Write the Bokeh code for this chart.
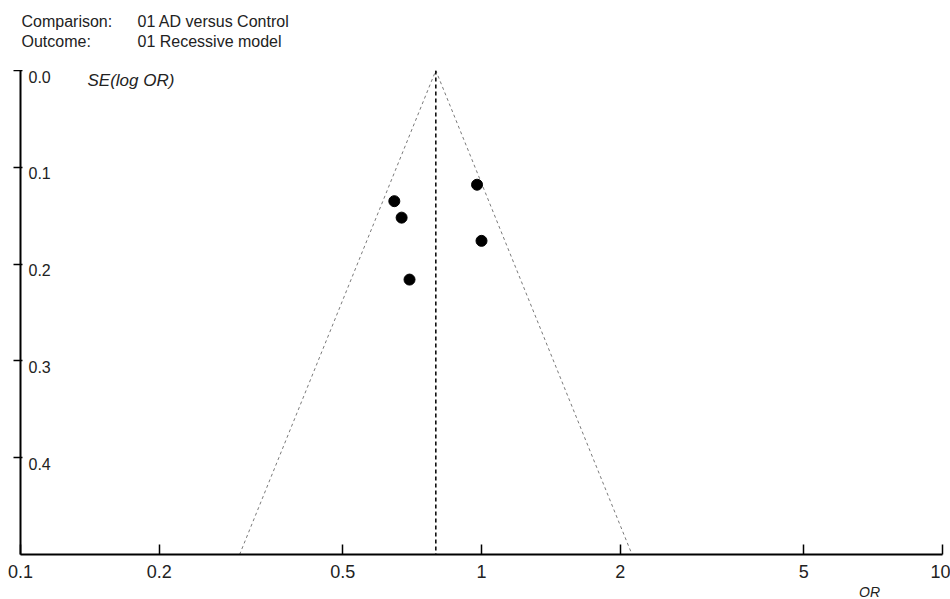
import numpy as np
from bokeh.plotting import figure
from bokeh.layouts import column
from bokeh.models import Range1d, FixedTicker, ColumnDataSource, CustomJSTickFormatter
from bokeh.core.properties import value
from bokeh.embed import file_html
from bokeh.resources import INLINE

# ---- data ----
study_or = [0.978, 0.647, 0.671, 1.00, 0.698]
study_se = [0.118, 0.135, 0.152, 0.176, 0.216]
pooled_or = 0.796
se_max = 0.5
z = 1.96

x_ticks = [0.1, 0.2, 0.5, 1, 2, 5, 10]
x_tick_labels = ["0.1", "0.2", "0.5", "1", "2", "5", "10"]
y_ticks = [0.0, 0.1, 0.2, 0.3, 0.4]
y_tick_labels = ["0.0", "0.1", "0.2", "0.3", "0.4"]

header_keys = ["Comparison:", "Outcome:"]
header_vals = ["01 AD versus Control", "01 Recessive model"]
y_title = "SE(log OR)"
x_title = "OR"

FONT = "Liberation Sans"
TXT = "#222222"
W = 950
BL, BR = 20, 8          # left / right borders shared by all three panels
HEAD_H = 70
FOOT_H = 15
MAIN_H = 599 - HEAD_H - FOOT_H


def blank(h):
    f = figure(width=W, height=h, x_range=Range1d(BL, W - BR), y_range=Range1d(h, 0),
               output_backend="svg", toolbar_location=None,
               x_axis_location=None, y_axis_location=None,
               min_border_left=BL, min_border_right=BR,
               min_border_top=0, min_border_bottom=0)
    f.title = None
    f.outline_line_color = None
    f.xgrid.visible = False
    f.ygrid.visible = False
    return f


# ---- header ----
head = blank(HEAD_H)
hsrc = ColumnDataSource(dict(
    x=[21] * len(header_keys) + [137] * len(header_vals),
    y=[12 + 20 * i for i in range(len(header_keys))] * 2,
    t=header_keys + header_vals))
head.text("x", "y", text="t", source=hsrc, text_baseline="top",
          text_align="left", text_font=value(FONT), text_font_size="16px",
          text_color=TXT)

# ---- main funnel plot ----
p = figure(width=W, height=MAIN_H, x_axis_type="log",
           x_range=Range1d(0.1, 10), y_range=Range1d(se_max, 0.0),
           output_backend="svg", toolbar_location=None,
           min_border_left=BL, min_border_right=BR,
           min_border_top=0, min_border_bottom=30)
p.title = None
p.outline_line_color = None
p.xgrid.visible = False
p.ygrid.visible = False

# funnel (pseudo 95% limits)
lo = pooled_or * np.exp(-z * se_max)
hi = pooled_or * np.exp(z * se_max)
p.line([lo, pooled_or, hi], [se_max, 0.0, se_max], line_color="#7a7a7a",
       line_width=1, line_dash="3 3")
# pooled estimate
p.line([pooled_or, pooled_or], [0.0, se_max], line_color="black",
       line_width=1.5, line_dash="4 3")

src = ColumnDataSource(dict(x=study_or, y=study_se))
p.scatter("x", "y", source=src, size=11, fill_color="black", line_color="black")

# x axis
xa = p.xaxis[0]
xa.ticker = FixedTicker(ticks=x_ticks)
xa.major_label_overrides = {t: l for t, l in zip(x_ticks, x_tick_labels)}
xa.minor_tick_line_color = None
xa.major_tick_in = 10
xa.major_tick_out = 0
xa.major_tick_line_width = 1.5
xa.axis_line_width = 2
xa.major_label_standoff = 10
xa.major_label_text_font = FONT
xa.major_label_text_font_size = "18px"
xa.major_label_text_color = TXT

# y axis (tick labels drawn inside the frame, as in the reference)
ya = p.yaxis[0]
ya.ticker = FixedTicker(ticks=y_ticks)
ya.formatter = CustomJSTickFormatter(code="return ''")
ya.minor_tick_line_color = None
ya.major_tick_in = 2
ya.major_tick_out = 7
ya.major_tick_line_width = 1.5
ya.axis_line_width = 2
ya.major_label_standoff = 0

ysrc = ColumnDataSource(dict(x=[0.1] * len(y_ticks), y=y_ticks, t=y_tick_labels))
p.text("x", "y", text="t", source=ysrc, x_offset=8, text_baseline="top",
       text_align="left", text_font=value(FONT), text_font_size="16px",
       text_color=TXT)
p.text(x=[0.1], y=[0.0], text=[y_title], x_offset=67,
       text_baseline="top", text_align="left", text_font=value(FONT),
       text_font_style="italic", text_font_size="17px", text_color=TXT)

# ---- footer (x title at right) ----
foot = blank(FOOT_H)
foot.text(x=[869], y=[7.5], text=[x_title], text_baseline="middle",
          text_align="center", text_font=value(FONT), text_font_style="italic",
          text_font_size="14px", text_line_height=1.0, text_color=TXT)

layout = column(head, p, foot, spacing=0)
open("out.html", "w").write(file_html(layout, INLINE))
